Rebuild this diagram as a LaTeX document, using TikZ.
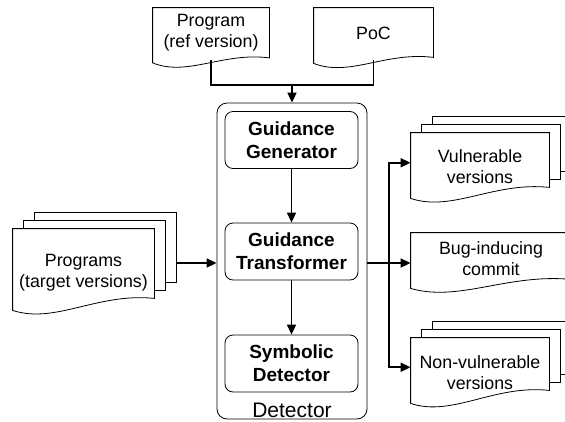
\documentclass[tikz,border=0pt]{standalone}
\usepackage{fontspec}
\setmainfont{Liberation Sans}
\usepackage{tikz}
\usetikzlibrary{arrows.meta,calc,positioning}

\newcommand{\docfont}{\fontsize{17.8}{21}\selectfont}
\newcommand{\stagefont}{\fontsize{19}{23}\selectfont\bfseries}
\newcommand{\detfont}{\fontsize{21}{25}\selectfont}

% outline of a document: box with a wavy lower edge (#2 = rise of the wave)
\newcommand{\docshape}[2]{%
  \draw ($(#1.south west)+(0,#2/2)$) -- (#1.north west) -- (#1.north east)
    -- ($(#1.south east)+(0,-#2/2)$)
    .. controls ($(#1.south west)!0.6!(#1.south east)+(0,-#2/2-6)$)
    and ($(#1.south west)!0.3!(#1.south east)+(0,#2/2+14)$)
    .. ($(#1.south west)+(0,#2/2)$) -- cycle;
}
% two more sheets behind a document
\newcommand{\docpile}[2]{%
  \foreach \k in {1,2}
    \draw ($(#1.north west)+(11*\k,8-8*\k)$) -- ++(0,-8)
      -- ($(#1.north east)+(11*\k,-8*\k)$)
      -- ($(#1.south east)+(11*\k,-#2/2-8*\k)$) -- ++(-11,0);
}

\begin{document}
\begin{tikzpicture} [
    x = 1pt, y = -1pt,
    line width = 0.8pt,
    doc/.style = { draw = none, inner sep = 0 },
    doctext/.style = { align = center, font = \docfont, inner sep = 0 },
    stage/.style = { draw, rounded corners = 8pt, minimum width = 133pt, minimum height = 57pt, align = center, font = \stagefont },
    flow/.style = { line width = 1.6pt },
    arr/.style = { flow, -{Triangle[length = 10pt, width = 9pt]} }
    ]

    \useasboundingbox (0,0) rectangle (565,421);
    \clip (0,0) rectangle (565,421);

    % inputs
    \node[doc, minimum width = 116, minimum height = 52, label = {[doctext, yshift = 1pt]center:Program\\(ref version)}] (prog) at (211,34) {};
    \node[doc, minimum width = 119, minimum height = 52, label = {[doctext, yshift = 1pt]center:PoC}] (poc) at (373.5,34) {};
    \node[doc, minimum width = 141, minimum height = 75, label = {[doctext, yshift = -6pt]center:Programs\\(target versions)}] (progs) at (83.5,266.5) {};
    \docshape{prog}{5}
    \docshape{poc}{6}
    \docshape{progs}{12}
    \docpile{progs}{12}

    % detector
    \node[draw, rounded corners = 10pt, minimum width = 150, minimum height = 316, inner sep = 0,
        label = {[anchor = south, font = \detfont, inner sep = 1pt]south:Detector}] (det) at (292,261) {};
    \node[stage] (gen) at (291.5,140) {Guidance\\Generator};
    \node[stage] (trans) at (291.5,251.5) {Guidance\\Transformer};
    \node[stage] (symb) at (291.5,363.5) {Symbolic\\Detector};

    % outputs
    \node[doc, minimum width = 138, minimum height = 59.5, label = {[doctext, yshift = -4pt]center:Vulnerable\\versions}] (vuln) at (480,162.75) {};
    \node[doc, minimum width = 160, minimum height = 50.5, label = {[doctext]center:Bug-inducing\\commit}] (bug) at (491,258.25) {};
    \node[doc, minimum width = 138, minimum height = 58.5, label = {[doctext, yshift = -5pt]center:Non-vulnerable\\versions}] (nonvuln) at (480,367.25) {};
    \docshape{vuln}{11}
    \docpile{vuln}{11}
    \docshape{bug}{9}
    \docshape{nonvuln}{13}
    \docpile{nonvuln}{13}

    % connectors
    \coordinate (join) at (292,85);
    \coordinate (fork) at (389,263);
    \draw[flow] (prog.south) |- (join) -| (poc.south);
    \draw[arr] (join) -- (det.north);
    \draw[arr] (gen) -- (trans);
    \draw[arr] (trans) -- (symb);
    \draw[arr] ($(progs.east |- fork)+(22,0)$) -- (det.west |- fork);
    \draw[flow] (det.east |- fork) -- (fork);
    \draw[arr] (fork) |- (vuln.west);
    \draw[arr] (fork) -- (bug.west |- fork);
    \draw[arr] (fork) |- (nonvuln.west);
\end{tikzpicture}
\end{document}
